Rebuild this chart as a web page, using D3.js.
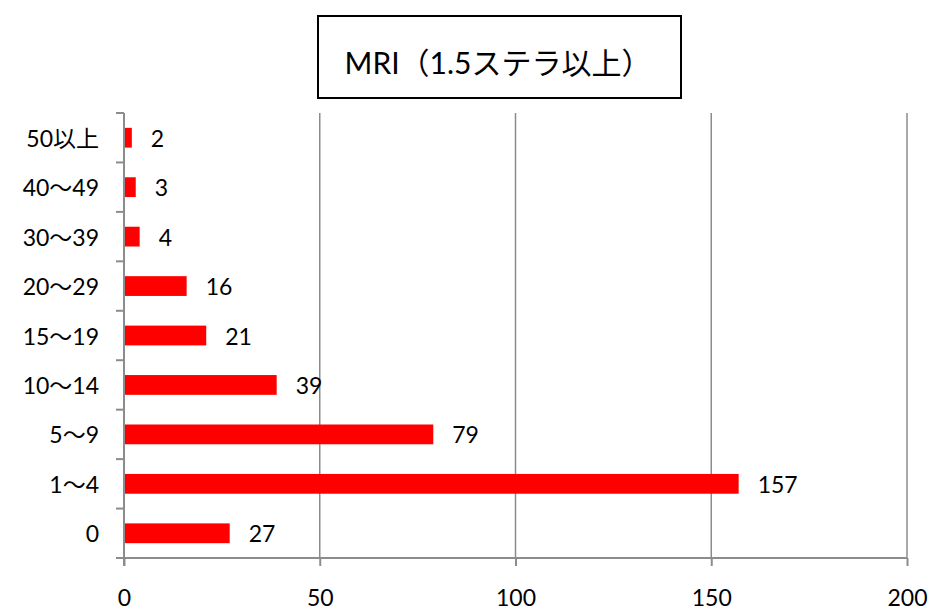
<!DOCTYPE html>
<html><head><meta charset="utf-8">
<script src="https://cdn.jsdelivr.net/npm/d3@7"></script>
<style>
body{margin:0;background:#fff;}
text{font-family:Lato,"Noto Sans CJK JP",sans-serif;fill:#000;}
</style></head>
<body>
<svg id="c" width="948" height="613"></svg>
<script>
const title = "MRI（1.5ステラ以上）";
const categories = ["50以上","40〜49","30〜39","20〜29","15〜19","10〜14","5〜9","1〜4","0"];
const values = [2,3,4,16,21,39,79,157,27];
const xTicks = [0,50,100,150,200];

(function(){
const svg = d3.select("#c");
const pL=124, pR=907, pT=113, pB=558;
const x = d3.scaleLinear().domain([0,200]).range([pL,pR]);
const y = d3.scaleBand().domain(categories).range([pT,pB]).paddingInner(0.6).paddingOuter(0.3);
const gridCol="#8c8c8c";
const fs = 23;

// gridlines
svg.append("g").selectAll("line").data(xTicks.filter(d=>d>0)).join("line")
  .attr("x1",d=>x(d)).attr("x2",d=>x(d)).attr("y1",pT).attr("y2",pB)
  .attr("stroke",gridCol).attr("stroke-width",1.5);

// x axis
const xa = svg.append("g").attr("transform",`translate(0,${pB})`)
  .call(d3.axisBottom(x).tickValues(xTicks).tickSize(8).tickPadding(24));
xa.select(".domain").attr("stroke",gridCol).attr("stroke-width",2).attr("d",`M${pL-1},0H${pR}`);
xa.selectAll(".tick line").attr("stroke",gridCol).attr("stroke-width",2);
xa.selectAll("text").attr("font-size",fs).style("font-family",'Lato,"Noto Sans CJK JP",sans-serif').attr("fill","#000");

// y axis line and ticks
const off = (y.step()-y.bandwidth())/2;
const bounds = categories.map(c=>y(c)-off).concat([pB]);
svg.append("line").attr("x1",pL).attr("x2",pL).attr("y1",pT).attr("y2",pB+8)
  .attr("stroke",gridCol).attr("stroke-width",2);
svg.append("g").selectAll("line").data(bounds).join("line")
  .attr("x1",pL-8).attr("x2",pL).attr("y1",d=>d).attr("y2",d=>d)
  .attr("stroke",gridCol).attr("stroke-width",2);

// category labels
svg.append("g").selectAll("text").data(categories).join("text")
  .attr("x",99).attr("y",d=>y(d)+y.bandwidth()/2).attr("text-anchor","end")
  .attr("dominant-baseline","central").attr("font-size",fs).text(d=>d);

// bars
svg.append("g").selectAll("rect").data(values).join("rect")
  .attr("x",x(0)+1).attr("y",(d,i)=>y(categories[i]))
  .attr("width",d=>x(d)-x(0)-1).attr("height",y.bandwidth()).attr("fill","#ff0000");

// value labels
svg.append("g").selectAll("text").data(values).join("text")
  .attr("x",d=>x(d)+19).attr("y",(d,i)=>y(categories[i])+y.bandwidth()/2)
  .attr("dominant-baseline","central").attr("font-size",fs).text(d=>d);

// title
svg.append("rect").attr("x",318).attr("y",16).attr("width",363).attr("height",82)
  .attr("fill","#fff").attr("stroke","#000").attr("stroke-width",2);
svg.append("text").attr("x",498).attr("y",62).attr("text-anchor","middle")
  .attr("dominant-baseline","central").attr("font-size",30).text(title);
})();
</script>
</body></html>
